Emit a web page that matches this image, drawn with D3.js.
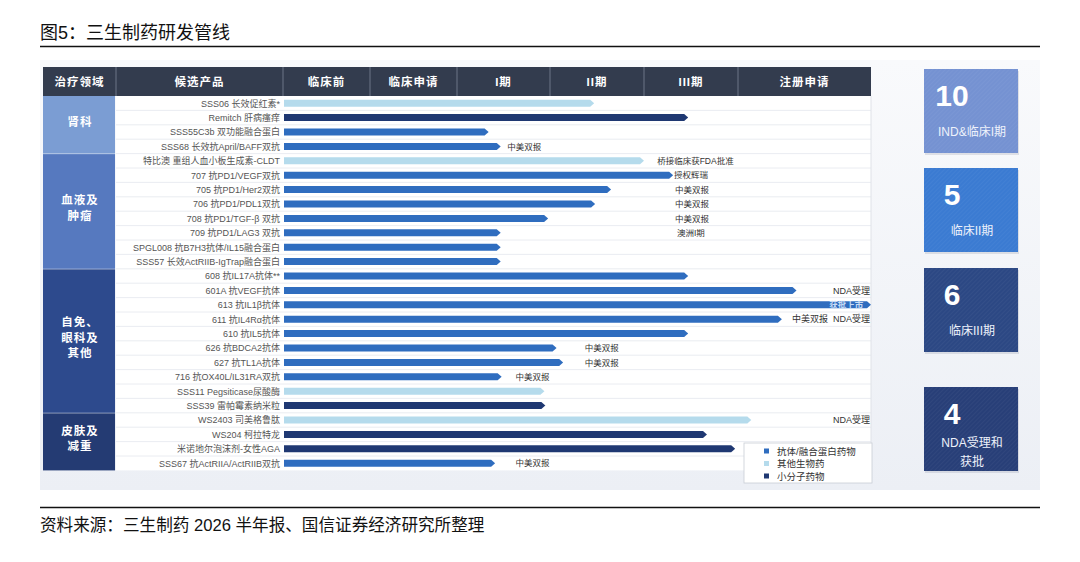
<!DOCTYPE html>
<html>
<head>
<meta charset="utf-8">
<script src="https://cdn.jsdelivr.net/npm/d3@7"></script>
<style>
  body { margin: 0; background: #fff; }
  svg { display: block; font-family: "Liberation Sans", "Noto Sans CJK SC", sans-serif; }
</style>
</head>
<body>
<svg id="chart" width="1080" height="562"></svg>
<script>
// ---- data ----
const stages = ['临床前', '临床申请', 'I期', 'II期', 'III期', '注册申请'];

const areas = ['肾科', '血液及\n肿瘤', '自免、\n眼科及\n其他', '皮肤及\n减重'];
const areaRows = [4, 8, 10, 4];

const products = [
    'SSS06 长效促红素*', 'Remitch 肝病瘙痒', 'SSS55C3b 双功能融合蛋白', 'SSS68 长效抗April/BAFF双抗',
    '特比澳 重组人血小板生成素-CLDT', '707 抗PD1/VEGF双抗', '705 抗PD1/Her2双抗', '706 抗PD1/PDL1双抗',
    '708 抗PD1/TGF-β 双抗', '709 抗PD1/LAG3 双抗', 'SPGL008 抗B7H3抗体/IL15融合蛋白', 'SSS57 长效ActRIIB-IgTrap融合蛋白',
    '608 抗IL17A抗体**', '601A 抗VEGF抗体', '613 抗IL1β抗体', '611 抗IL4Rα抗体',
    '610 抗IL5抗体', '626 抗BDCA2抗体', '627 抗TL1A抗体', '716 抗OX40L/IL31RA双抗',
    'SSS11 Pegsiticase尿酸酶', 'SSS39 雷帕霉素纳米粒', 'WS2403 司美格鲁肽', 'WS204 柯拉特龙',
    '米诺地尔泡沫剂-女性AGA', 'SSS67 抗ActRIIA/ActRIIB双抗'
];

// progress along the stage axis (1 unit = 1 stage column)
const progress = [
    3.47, 4.47, 2.34, 2.47,
    4.00, 4.31, 3.65, 3.48,
    2.98, 2.47, 2.47, 2.47,
    4.47, 5.44, 6.00, 5.33,
    4.47, 3.07, 3.14, 2.48,
    2.94, 2.95, 5.10, 4.67,
    4.97, 2.41
];

// 0 = 抗体/融合蛋白药物, 1 = 其他生物药, 2 = 小分子药物
const drugType = [
    1, 2, 0, 0,
    1, 0, 0, 0,
    0, 0, 0, 0,
    0, 0, 0, 0,
    0, 0, 0, 0,
    1, 2, 1, 2,
    2, 0
];
const typeNames = ['抗体/融合蛋白药物', '其他生物药', '小分子药物'];

// notes: [row, text, stage position, anchor]
const notes = [
    [3, '中美双报', 2.54, 'start'],
    [4, '桥接临床获FDA批准', 4.14, 'start'],
    [5, '授权辉瑞', 4.32, 'start'],
    [6, '中美双报', 4.33, 'start'],
    [7, '中美双报', 4.33, 'start'],
    [8, '中美双报', 4.33, 'start'],
    [9, '澳洲I期', 4.35, 'start'],
    [13, 'NDA受理', 6.0, 'end'],
    [14, '获批上市', 5.95, 'end'],
    [15, '中美双报  NDA受理', 6.0, 'end'],
    [17, '中美双报', 3.37, 'start'],
    [18, '中美双报', 3.37, 'start'],
    [19, '中美双报', 2.63, 'start'],
    [22, 'NDA受理', 6.0, 'end'],
    [25, '中美双报', 2.63, 'start']
];

const summaryCounts = [10, 5, 6, 4];
const summaryLabels = ['IND&临床I期', '临床II期', '临床III期', 'NDA受理和\n获批'];

// ---- layout ----
const svg = d3.select('#chart');
const areaColors = ['#7b9dd3', '#5679bf', '#2d4a8d', '#243b73'];
const typeColors = ['#2f6dbf', '#b5dbec', '#1f3872'];
const panelColors = ['#7592d2', '#3b7bd2', '#2c4884', '#283f78'];

const x = d3.scaleLinear()
    .domain(d3.range(stages.length + 1))
    .range([283, 370, 457, 550, 644, 738, 871]);

const y = d3.scaleBand()
    .domain(d3.range(products.length))
    .range([96, 470.4]);

// title + rules
svg.append('text').attr('x', 40).attr('y', 39)
    .attr('font-size', 18).attr('fill', '#111')
    .text('图5：三生制药研发管线');
svg.append('line').attr('x1', 40).attr('x2', 1040).attr('y1', 46.5).attr('y2', 46.5)
    .attr('stroke', '#111').attr('stroke-width', 1.6);

svg.append('line').attr('x1', 40).attr('x2', 1040).attr('y1', 507.5).attr('y2', 507.5)
    .attr('stroke', '#111').attr('stroke-width', 1.4);
svg.append('text').attr('x', 40).attr('y', 531)
    .attr('font-size', 16.6).attr('fill', '#111')
    .text('资料来源：三生制药 2026 半年报、国信证券经济研究所整理');

// background panel
const defs = svg.append('defs');
const bg = defs.append('linearGradient').attr('id', 'bg-grad')
    .attr('x1', 0).attr('x2', 0).attr('y1', 0).attr('y2', 1);
bg.append('stop').attr('offset', '0%').attr('stop-color', '#f9fafc');
bg.append('stop').attr('offset', '100%').attr('stop-color', '#eceff5');

const hatch = defs.append('pattern').attr('id', 'hatch')
    .attr('width', 3).attr('height', 3)
    .attr('patternUnits', 'userSpaceOnUse')
    .attr('patternTransform', 'rotate(45)');
hatch.append('line').attr('x1', 0).attr('y1', 0).attr('x2', 0).attr('y2', 3)
    .attr('stroke', 'rgba(255,255,255,0.08)').attr('stroke-width', 1);

svg.append('rect').attr('x', 40).attr('y', 60).attr('width', 1000).attr('height', 430)
    .attr('fill', 'url(#bg-grad)');

// header
const colEdges = [43, 116].concat(x.range());
const colLabels = ['治疗领域', '候选产品'].concat(stages);
svg.append('rect').attr('x', 43).attr('y', 67).attr('width', 871 - 43).attr('height', 29)
    .attr('fill', '#333c4e');
svg.append('g').selectAll('line').data(colEdges.slice(1, -1)).join('line')
    .attr('x1', d => d).attr('x2', d => d).attr('y1', 67).attr('y2', 96)
    .attr('stroke', '#6c7586').attr('stroke-width', 1);
svg.append('g').selectAll('text').data(colLabels).join('text')
    .attr('x', (d, i) => (colEdges[i] + colEdges[i + 1]) / 2)
    .attr('y', 86)
    .attr('text-anchor', 'middle')
    .attr('font-size', 11.5).attr('font-weight', 'bold')
    .attr('letter-spacing', 1)
    .attr('fill', '#fff')
    .text(d => d);

// row backgrounds and separators
svg.append('rect').attr('x', 116).attr('y', y.range()[0])
    .attr('width', 871 - 116).attr('height', y.range()[1] - y.range()[0])
    .attr('fill', '#fff');
svg.append('g').selectAll('line').data(d3.range(1, products.length)).join('line')
    .attr('x1', 116).attr('x2', 871)
    .attr('y1', d => y(d)).attr('y2', d => y(d))
    .attr('stroke', '#e4e7ed').attr('stroke-width', 0.8);
svg.append('line').attr('x1', 871).attr('x2', 871)
    .attr('y1', 96).attr('y2', y.range()[1])
    .attr('stroke', '#dfe2e8');

// area blocks
let start = 0;
const areaSpans = areaRows.map(n => { const s = start; start += n; return [s, start]; });
const gArea = svg.append('g');
areaSpans.forEach(([s, e], i) => {
    const top = y(s), bottom = y(e - 1) + y.bandwidth();
    gArea.append('rect')
        .attr('x', 43).attr('y', top + (i ? 0.5 : 0))
        .attr('width', 72).attr('height', bottom - top - (i ? 0.5 : 0))
        .attr('fill', areaColors[i]);
    const lines = areas[i].split('\n');
    const mid = (top + bottom) / 2 - 3;
    gArea.append('text')
        .attr('x', 79).attr('text-anchor', 'middle')
        .attr('font-size', 11.5).attr('font-weight', 'bold').attr('fill', '#fff')
        .attr('letter-spacing', 1)
        .selectAll('tspan').data(lines).join('tspan')
        .attr('x', 80)
        .attr('y', (d, k) => mid + (k - (lines.length - 1) / 2) * 15.5 + 4)
        .text(d => d);
});

// product labels
svg.append('g').selectAll('text').data(products).join('text')
    .attr('x', 280)
    .attr('y', (d, i) => y(i) + y.bandwidth() / 2 + 3.3)
    .attr('text-anchor', 'end')
    .attr('font-size', 9).attr('fill', '#555')
    .text(d => d);

// bars (arrow shaped)
const barH = 7, tip = 4;
const arrow = (x0, x1, cy) => {
    const p = d3.path();
    p.moveTo(x0, cy - barH / 2);
    p.lineTo(x1 - tip, cy - barH / 2);
    p.lineTo(x1, cy);
    p.lineTo(x1 - tip, cy + barH / 2);
    p.lineTo(x0, cy + barH / 2);
    p.closePath();
    return p.toString();
};
svg.append('g').selectAll('path').data(progress).join('path')
    .attr('d', (d, i) => arrow(x(0) + 1, x(d), y(i) + y.bandwidth() / 2))
    .attr('fill', (d, i) => typeColors[drugType[i]]);

// notes
svg.append('g').selectAll('text').data(notes).join('text')
    .attr('x', d => d[3] === 'end' ? x(d[2]) - 1 : x(d[2]))
    .attr('y', d => y(d[0]) + y.bandwidth() / 2 + 3.2)
    .attr('text-anchor', d => d[3])
    .attr('font-size', d => d[1].includes('NDA') ? 9 : 8.5)
    .attr('font-weight', d => d[1] === '获批上市' ? 'bold' : null)
    .attr('fill', d => d[1] === '获批上市' ? '#c9dcf5' : '#333')
    .attr('xml:space', 'preserve')
    .text(d => d[1]);

// legend
const lg = svg.append('g').attr('transform', 'translate(744,443)');
lg.append('rect').attr('width', 128).attr('height', 40)
    .attr('fill', '#fff').attr('stroke', '#c9cdd5').attr('stroke-width', 0.8);
const li = lg.selectAll('g').data(typeNames).join('g')
    .attr('transform', (d, i) => `translate(20,${8 + i * 12.5})`);
li.append('rect').attr('x', 0).attr('y', -2.5).attr('width', 5).attr('height', 5)
    .attr('fill', (d, i) => typeColors[i]);
li.append('text').attr('x', 13).attr('y', 3.5)
    .attr('font-size', 9.5).attr('fill', '#333')
    .text(d => d);

// summary panels
const panelTops = [69, 168, 268, 387];
const gp = svg.append('g');
summaryCounts.forEach((n, i) => {
    const g = gp.append('g').attr('transform', `translate(924,${panelTops[i]})`);
    g.append('rect').attr('x', 1).attr('y', 2).attr('width', 94).attr('height', 84)
        .attr('fill', 'rgba(40,50,80,0.12)');
    g.append('rect').attr('width', 94).attr('height', 84).attr('fill', panelColors[i]);
    g.append('rect').attr('width', 94).attr('height', 84).attr('fill', 'url(#hatch)');
    g.append('text').attr('x', 28).attr('y', 37)
        .attr('text-anchor', 'middle')
        .attr('font-size', 30).attr('font-weight', 'bold').attr('fill', '#fff')
        .text(n);
    const lines = summaryLabels[i].split('\n');
    g.append('text').attr('text-anchor', 'middle')
        .attr('font-size', 12).attr('fill', '#eef2fb')
        .selectAll('tspan').data(lines).join('tspan')
        .attr('x', 48)
        .attr('y', (d, k) => (lines.length > 1 ? 60 : 67) + k * 19)
        .text(d => d);
});
</script>
</body>
</html>
